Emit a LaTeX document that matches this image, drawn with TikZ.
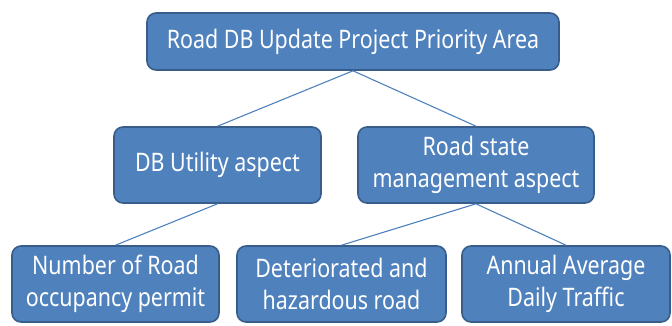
\documentclass[tikz,border=0pt]{standalone}
\usepackage{fontspec}
\setmainfont{Noto Sans}[FakeStretch=0.84]
\usetikzlibrary{positioning}

\definecolor{boxfill}{HTML}{4F81BD}
\definecolor{boxline}{HTML}{385D8A}

\begin{document}
\begin{tikzpicture}[x=1pt,y=-1pt,
		area/.style={draw=boxline, line width=1.6pt, fill=boxfill, rounded corners=9pt,
			text=white, align=center, inner sep=0pt,
			font=\fontsize{25.5}{32}\selectfont},
		link/.style={draw=boxfill, line width=1.1pt}
		]
		\useasboundingbox (0,0) rectangle (672,325);
		\node[area, minimum width=412, minimum height=57] (top) at (353,41.5) {Road DB Update Project Priority Area};
		
		\node[area, minimum width=207, minimum height=76] (util) at (217.5,165) {DB Utility aspect};
		\node[area, minimum width=236, minimum height=76] (state) at (476,165) {Road state\\management aspect};
		
		\node[area, minimum width=207, minimum height=76] (permit) at (115.5,284) {Number of Road\\occupancy permit};
		\node[area, minimum width=209, minimum height=76] (hazard) at (341.5,284) {Deteriorated and\\hazardous road};
		\node[area, minimum width=208, minimum height=76] (traffic) at (566,284) {Annual Average\\Daily Traffic};
		
		\path[link] (top.south) -- (util.north);
		\path[link] (top.south) -- (state.north);
		\path[link] (util.south) -- (permit.north);
		\path[link] (state.south) -- (hazard.north);
		\path[link] (state.south) -- (traffic.north);
	\end{tikzpicture}
\end{document}
